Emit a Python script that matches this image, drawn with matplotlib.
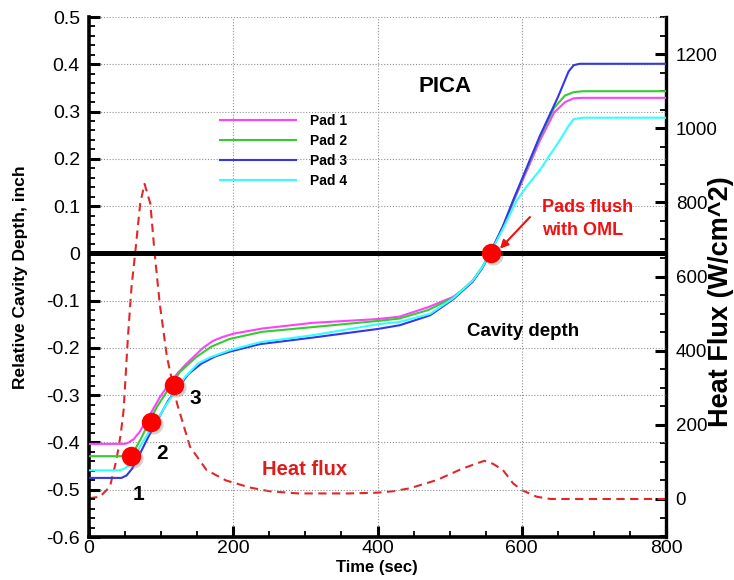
import numpy as np
import matplotlib
matplotlib.use('Agg')
import matplotlib.pyplot as plt
from matplotlib.ticker import MultipleLocator, FixedLocator, FormatStrFormatter
from matplotlib.transforms import offset_copy

plt.rcParams['font.family'] = ['Liberation Sans', 'DejaVu Sans']
plt.rcParams['axes.unicode_minus'] = False

# relative cavity depth (inch) of each pad vs time (sec)
t_pad1 = [0, 50, 55, 62, 70, 77, 85, 98, 110, 122, 134, 145, 158, 172, 185, 200, 240, 310, 400,
          430, 470, 505, 520, 532, 545, 556, 574, 588, 600, 625, 645, 660, 672, 685, 800]
d_pad1 = [-0.403, -0.403, -0.400, -0.393, -0.378, -0.360, -0.340, -0.305, -0.278, -0.255, -0.235,
          -0.219, -0.200, -0.185, -0.177, -0.170, -0.159, -0.147, -0.139, -0.134, -0.114, -0.092,
          -0.075, -0.057, -0.030, 0.0, 0.056, 0.108, 0.150, 0.238, 0.298, 0.320, 0.328, 0.329, 0.329]

t_pad2 = [0, 50, 56, 63, 72, 80, 94, 112, 126, 149, 170, 195, 240, 310, 400, 430, 470, 505, 532,
          545, 556, 574, 588, 600, 625, 645, 660, 672, 685, 800]
d_pad2 = [-0.429, -0.429, -0.426, -0.417, -0.392, -0.367, -0.325, -0.283, -0.251, -0.219, -0.197,
          -0.181, -0.166, -0.156, -0.143, -0.138, -0.120, -0.094, -0.058, -0.030, 0.0, 0.056,
          0.110, 0.154, 0.245, 0.308, 0.334, 0.341, 0.343, 0.343]

t_pad3 = [0, 45, 52, 60, 68, 82, 96, 110, 124, 138, 156, 175, 195, 237, 311, 400, 431, 473, 505,
          532, 545, 556, 574, 588, 600, 625, 650, 665, 672, 680, 800]
d_pad3 = [-0.475, -0.475, -0.470, -0.455, -0.432, -0.389, -0.350, -0.311, -0.283, -0.255, -0.233,
          -0.218, -0.208, -0.192, -0.178, -0.160, -0.152, -0.131, -0.097, -0.060, -0.032, 0.0,
          0.058, 0.112, 0.156, 0.248, 0.330, 0.385, 0.398, 0.401, 0.401]

t_pad4 = [0, 42, 50, 57, 65, 73, 82, 92, 105, 119, 133, 151, 168, 195, 237, 311, 400, 431, 473,
          505, 532, 545, 556, 574, 593, 607, 625, 639, 653, 665, 672, 685, 800]
d_pad4 = [-0.459, -0.459, -0.455, -0.445, -0.425, -0.403, -0.381, -0.360, -0.325, -0.293, -0.262,
          -0.233, -0.220, -0.205, -0.188, -0.173, -0.150, -0.145, -0.128, -0.095, -0.058, -0.030,
          0.0, 0.052, 0.112, 0.142, 0.176, 0.208, 0.240, 0.270, 0.284, 0.287, 0.287]

pad_names = ['Pad 1', 'Pad 2', 'Pad 3', 'Pad 4']
pad_colors = ['#ff40ff', '#33cc33', '#3535ee', '#33ffff']

# heat flux (W/cm^2) vs time (sec)
t_heat = [0, 15, 29, 38, 44, 48, 54, 59, 64, 71, 77, 85, 91, 98, 108, 122, 140, 163, 190, 223,
          250, 290, 360, 400, 422, 445, 482, 519, 548, 560, 574, 588, 600, 621, 640, 800]
q_heat = [2, 6, 33, 105, 175, 240, 438, 573, 663, 797, 850, 797, 663, 528, 384, 258, 141, 78, 50,
          31, 21, 15, 15, 17, 21, 29, 51, 83, 103, 95, 78, 42, 24, 6, 0, 0]

# numbered events and the flush point
t_marks = [58, 86, 118]
d_marks = [-0.429, -0.357, -0.278]
mark_labels = ['1', '2', '3']
t_flush = 558
d_flush = 0.0

red = '#f01010'

fig = plt.figure(figsize=(7.34, 5.8), dpi=100)
ax = fig.add_axes([89 / 734, 43 / 580, 577 / 734, 520 / 580])
ax2 = ax.twinx()

# heat flux on the right axis
ax2.plot(t_heat, q_heat, color='#e02828', lw=1.5, dashes=(4, 2.6))
ax2.set_ylim(-102.5, 1300)
ax2.set_yticks([0, 200, 400, 600, 800, 1000, 1200])
ax2.yaxis.set_minor_locator(MultipleLocator(50))
ax2.tick_params(axis='y', which='major', direction='in', length=8, width=2.2, labelsize=13.5, pad=7)
ax2.tick_params(axis='y', which='minor', direction='in', length=4.5, width=1.3)
for s in ['top', 'left', 'bottom']:
    ax2.spines[s].set_visible(False)
ax2.spines['right'].set_linewidth(2.4)
ax2.set_ylabel('Heat Flux (W/cm^2)', fontsize=19.5, fontweight='bold', rotation=90, va='center')
ax2.yaxis.set_label_coords(1.096, 0.452)

# cavity depth on the left axis, drawn above the heat flux
ax.set_zorder(ax2.get_zorder() + 1)
ax.patch.set_visible(False)

lines = []
for t, d, name, c in zip([t_pad1, t_pad2, t_pad3, t_pad4], [d_pad1, d_pad2, d_pad3, d_pad4],
                         pad_names, pad_colors):
    ln, = ax.plot(t, d, color=c, lw=1.5, label=name, zorder=3)
    lines.append(ln)

ax.axhline(0, color='black', lw=3.6, zorder=2)

# event markers with a soft shadow
shadow = offset_copy(ax.transData, fig=fig, x=2, y=-2, units='dots')
ax.plot(t_marks + [t_flush], d_marks + [d_flush], 'o', color='#808080', alpha=0.35, ms=14.5,
        mec='none', transform=shadow, zorder=4)
ax.plot(t_marks + [t_flush], d_marks + [d_flush], 'o', color='#ff0000', ms=14, mec='none', zorder=5)

label_pos = [(68.4, -0.5225), (100.8, -0.434), (147, -0.318)]
for lab, (x, y) in zip(mark_labels, label_pos):
    ax.text(x, y, lab, fontsize=15, fontweight='bold', ha='center', va='baseline')

ax.text(493.6, 0.341, 'PICA', fontsize=16, fontweight='bold', ha='center', va='baseline')
ax.text(523.6, -0.1756, 'Cavity depth', fontsize=13.5, fontweight='bold', ha='left', va='baseline')
ax.text(239.4, -0.468, 'Heat flux', fontsize=14.5, fontweight='bold', color='#dd1c1c',
        ha='left', va='baseline')
ax.text(627.6, 0.0874, 'Pads flush', fontsize=13, fontweight='bold', color=red, ha='left', va='baseline')
ax.text(627.6, 0.038, 'with OML', fontsize=13, fontweight='bold', color=red, ha='left', va='baseline')
ax.annotate('', xy=(569.8, 0.0099), xytext=(611.4, 0.0768),
            arrowprops=dict(arrowstyle='-|>', color=red, lw=1.5, mutation_scale=12,
                            shrinkA=0, shrinkB=0), zorder=6)

ax.set_xlim(0, 800)
ax.set_ylim(-0.6, 0.5)
ax.xaxis.set_major_locator(MultipleLocator(200))
ax.xaxis.set_minor_locator(MultipleLocator(50))
yt = np.round(np.arange(-0.6, 0.51, 0.1), 1) + 0.0
ax.yaxis.set_major_locator(FixedLocator(yt))
ax.yaxis.set_minor_locator(MultipleLocator(0.02))
ax.yaxis.set_major_formatter(FormatStrFormatter('%g'))
ax.tick_params(axis='both', which='major', direction='in', length=8, width=2.2, labelsize=14)
ax.tick_params(axis='both', which='minor', direction='in', length=4.5, width=1.3)
ax.tick_params(axis='y', which='major', pad=6.5)
ax.tick_params(axis='x', which='major', pad=2.5)
ax.tick_params(right=False, top=False, which='both')
ax.spines['top'].set_visible(False)
ax.spines['right'].set_visible(False)
ax.spines['left'].set_linewidth(2.6)
ax.spines['bottom'].set_linewidth(2.6)
ax.grid(True, which='major', color='#909090', lw=0.8, linestyle=(0, (1, 1.6)))

ax.set_xlabel('Time (sec)', fontsize=12, fontweight='bold', va='center')
ax.xaxis.set_label_coords(0.499, -0.0596)
ax.set_ylabel('Relative Cavity Depth, inch', fontsize=12.5, fontweight='bold', va='center')
ax.yaxis.set_label_coords(-0.118, 0.5)

ax.legend(handles=lines, loc='upper left', bbox_to_anchor=(0.227, 0.813), frameon=False,
          prop={'weight': 'bold', 'size': 10}, handlelength=5.5, handletextpad=1.0,
          labelspacing=0.42, borderpad=0, borderaxespad=0)

fig.savefig('out.png', dpi=100)
